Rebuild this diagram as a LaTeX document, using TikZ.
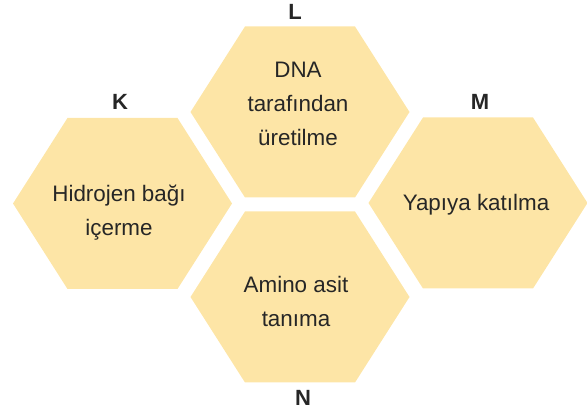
\documentclass[tikz,border=0pt]{standalone}
\usepackage{fontspec}
\setmainfont{Liberation Sans}
\definecolor{petek}{HTML}{FDE5A6}
\definecolor{yazi}{HTML}{262626}
\begin{document}
\begin{tikzpicture}[x=1pt,y=-1pt,hex/.pic={
\path[fill=petek](-109.5,0)--(-55,-85.5)--(55,-85.5)--(109.5,0)--(55,85.5)--(-55,85.5)--cycle;
},metin/.style={align=center,text=yazi,inner sep=0pt,font=\fontsize{22.4}{34}\selectfont},
harf/.style={anchor=base,text=yazi,inner sep=0pt,font=\fontsize{22}{26}\selectfont\bfseries}]
\useasboundingbox(0,0)rectangle(587,411);
\path(122.5,203.5)pic{hex} (300,112)pic{hex} (478,203)pic{hex} (300,297)pic{hex};
\node[metin](k)at(119,213){Hidrojen bağı\\içerme};
\node[metin](l)at(298,104){DNA\\tarafından\\üretilme};
\node[metin](m)at(476,205){Yapıya katılma};
\node[metin](n)at(296,301){Amino asit\\tanıma};
\node[harf](kh)at(120,110){K};
\node[harf](lh)at(295,20){L};
\node[harf](mh)at(480,110){M};
\node[harf](nh)at(303,405.5){N};
\end{tikzpicture}
\end{document}
